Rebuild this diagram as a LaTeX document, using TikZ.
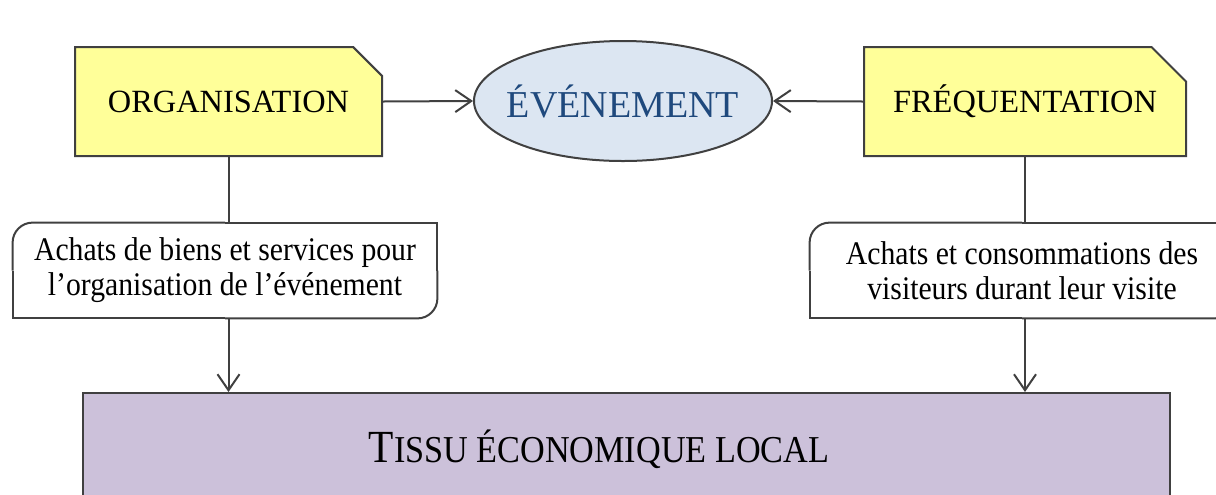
\documentclass[tikz,border=0pt]{standalone}
\usepackage{fontspec}
\setmainfont{Liberation Serif}
\newfontfamily\narrowserif[FakeStretch=0.9]{Liberation Serif}
\usetikzlibrary{shapes.misc}
\usetikzlibrary{shapes.geometric}
\usetikzlibrary{arrows.meta}

\begin{document}
\begin{tikzpicture}[x=0.5pt, y=-0.5pt]
                \tikzstyle{line} = [line width=1pt, color={black!75}]
                \tikzstyle{arrow} = [line, -{Straight Barb[length=8pt, width=11pt]}]
                \tikzstyle{source} = [line, draw, fill={rgb,255:red,255;green,255;blue,153}, shape=chamfered rectangle, chamfered rectangle corners=north east, chamfered rectangle xsep=9pt, chamfered rectangle ysep=9pt, minimum height=54.5pt, inner sep=0pt, text=black, font=\fontsize{16.2}{18}\selectfont]
                \tikzstyle{flow} = [minimum width=212pt, minimum height=47.5pt, inner sep=0pt, align=center, font=\narrowserif\fontsize{16.5}{17.5}\selectfont]
                \useasboundingbox (0, 0) rectangle (1216, 494);
                \clip (0, 0) rectangle (1216, 494);
                \node[source, minimum width=153.5pt] (orga) at (228.5, 101.5) {ORGANISATION};
                \node[source, minimum width=161pt] (freq) at (1025, 101.5) {FRÉQUENTATION};
                \node[line, draw, ellipse, fill={rgb,255:red,220;green,230;blue,242}, minimum width=149pt, minimum height=60pt, inner xsep=-8pt, inner ysep=0pt, text={rgb,255:red,31;green,73;blue,125}, font=\fontsize{19}{20}\selectfont] (event) at (623, 101) {ÉVÉNEMENT};
                \node[flow] (achats) at (225, 270.5) {Achats de biens et services pour\\l’organisation de l’événement};
                \node[flow] (visite) at (1022, 270.5) {Achats et consommations des\\visiteurs durant leur visite};
                \node[line, draw, fill={rgb,255:red,204;green,193;blue,218}, minimum width=543.5pt, minimum height=56pt, inner sep=0pt] (tissu) at (626.5, 449) {};
                \node[inner sep=0pt, font=\narrowserif] (tissutext) at (599, 449) {{\fontsize{23}{24}\selectfont T}{\fontsize{19}{24}\selectfont ISSU ÉCONOMIQUE LOCAL}};
                \foreach \flowbox in {achats, visite} {
                    \draw[line] (\flowbox.north) -- (\flowbox.north east) -- (\flowbox.east);
                    \draw[line, rounded corners=10pt] (\flowbox.east) -- (\flowbox.south east) -- (\flowbox.south);
                    \draw[line] (\flowbox.south) -- (\flowbox.south west) -- (\flowbox.west);
                    \draw[line, rounded corners=10pt] (\flowbox.west) -- (\flowbox.north west) -- (\flowbox.north);
                }
                \draw[arrow] (orga.east) -- (event.west);
                \draw[arrow] (freq.west) -- (event.east);
                \draw[line] (orga.south) -- (orga.south |- achats.north);
                \draw[line] (freq.south) -- (freq.south |- visite.north);
                \draw[arrow] (orga.south |- achats.south) -- (orga.south |- tissu.north);
                \draw[arrow] (freq.south |- visite.south) -- (freq.south |- tissu.north);
            \end{tikzpicture}
\end{document}
